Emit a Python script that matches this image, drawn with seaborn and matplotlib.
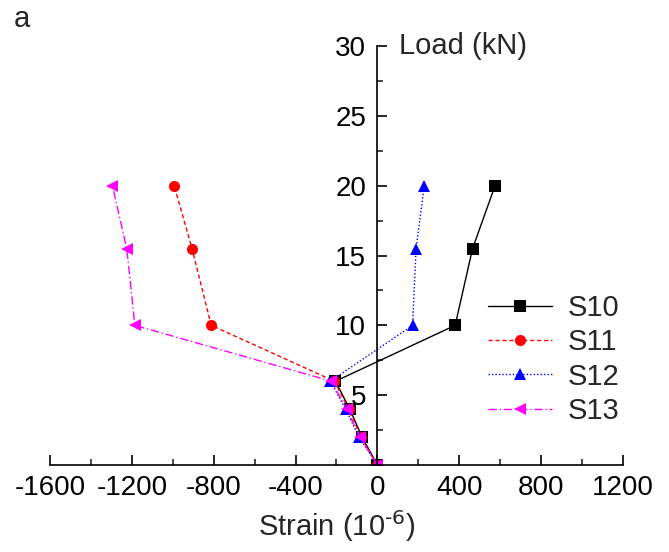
import matplotlib
matplotlib.use("Agg")
import matplotlib.pyplot as plt
import seaborn as sns
import pandas as pd
from matplotlib.ticker import MultipleLocator

sns.set_style("white")
plt.rcParams['font.family'] = ['Liberation Sans', 'DejaVu Sans']
plt.rcParams['mathtext.default'] = 'regular'

load = [0, 2, 4, 6, 10, 15.5, 20]
s10 = [0, -75, -135, -205, 380, 465, 575]
s11 = [0, -80, -140, -210, -812, -906, -993]
s12 = [0, -90, -155, -230, 172, 189, 229]
s13 = [0, -85, -150, -225, -1185, -1225, -1295]
series_names = ["S10", "S11", "S12", "S13"]
xticks = [-1600, -1200, -800, -400, 0, 400, 800, 1200]
yticks = [5, 10, 15, 20, 25, 30]

rows = []
for name, vals in zip(series_names, [s10, s11, s12, s13]):
    for i, (xv, yv) in enumerate(zip(vals, load)):
        rows.append({"Strain": xv, "Load": yv, "Series": name, "order": i})
df = pd.DataFrame(rows)

fig = plt.figure(figsize=(6.69, 5.52), dpi=100)
ax = fig.add_axes([0.0747, 0.1576, 0.8565, 0.759])

palette = {"S10": "black", "S11": "red", "S12": "blue", "S13": "magenta"}
markers = {"S10": "s", "S11": "o", "S12": "^", "S13": "<"}
dashes = {"S10": "", "S11": (3, 2), "S12": (1, 1.5), "S13": (6, 2, 1, 2)}
sns.lineplot(data=df, x="Strain", y="Load", hue="Series", style="Series",
             palette=palette, markers=markers, dashes=dashes, sort=False,
             estimator=None, units="Series", markersize=8, linewidth=1,
             markeredgewidth=0, ax=ax)

ax.set_xlim(-1600, 1200)
ax.set_ylim(0, 30)
ax.spines['left'].set_position(('data', 0))
ax.spines['top'].set_visible(False)
ax.spines['right'].set_visible(False)
for s in ['left', 'bottom']:
    ax.spines[s].set_linewidth(1.2)
    ax.spines[s].set_color('black')
ax.set_xticks(xticks)
ax.set_xticklabels([str(t) for t in xticks])
ax.set_yticks(yticks)
ax.set_yticklabels([str(t) for t in yticks])
ax.xaxis.set_minor_locator(MultipleLocator(200))
ax.yaxis.set_minor_locator(MultipleLocator(2.5))
ax.tick_params(axis='both', which='major', direction='in', length=7, width=1.2,
               labelsize=20, colors='black')
ax.tick_params(axis='both', which='minor', direction='in', length=4, width=1.2)
ax.tick_params(axis='x', which='both', bottom=True, pad=7)
ax.tick_params(axis='y', which='both', left=True, pad=8)
ax.set_ylabel("")
ax.set_xlabel(r"Strain (10$^{\text{-6}}$)", fontsize=21, labelpad=5)
ax.text(105, 30, "Load (kN)", fontsize=21, ha='left', va='center')
fig.text(0.021, 0.966, "a", fontsize=21, ha='left', va='center')

leg = ax.legend(loc='center left', bbox_to_anchor=(0.729, 0.349),
                bbox_transform=fig.transFigure, frameon=False,
                borderpad=0, borderaxespad=0,
                fontsize=21, handlelength=2.2, labelspacing=0.22, handletextpad=0.55)

fig.savefig("out.png", dpi=100)
